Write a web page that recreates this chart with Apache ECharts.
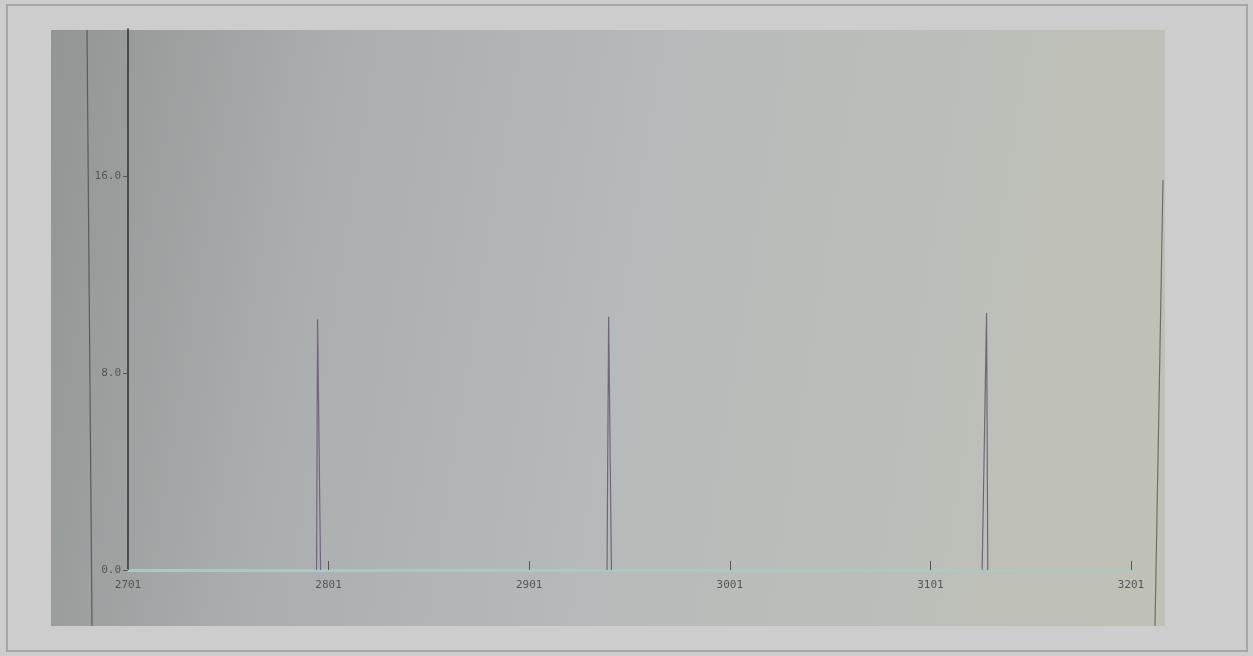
<!DOCTYPE html>
<html>
<head>
<meta charset="utf-8">
<script src="https://cdn.jsdelivr.net/npm/echarts@6/dist/echarts.min.js"></script>
<style>
html,body{margin:0;padding:0;background:#cdcdcd;}
#c{width:1253px;height:656px;}
</style>
</head>
<body>
<div id="c"></div>
<script>
// Tick labels / axis ranges
const xMin = 2701, xMax = 3201, xStep = 100;
const yMin = 0, yMax = 22, yStep = 8;

// Spike 1 (narrow triangle)
const spike1X = [2795.0, 2795.5, 2797.0];
const spike1Y = [0, 10.2, 0];
// Spike 2
const spike2X = [2939.8, 2940.6, 2942.0];
const spike2Y = [0, 10.3, 0];
// Spike 3
const spike3X = [3126.8, 3129.0, 3129.6];
const spike3Y = [0, 10.45, 0];

const zip = (xs, ys) => xs.map((x, i) => [x, ys[i]]);

const chart = echarts.init(document.getElementById('c'), null, {renderer: 'canvas'});

const spikeStyle = {color: '#6f667a', width: 1.2};
function spikeSeries(xs, ys) {
  return {
    type: 'line', data: zip(xs, ys), symbol: 'none', silent: true,
    lineStyle: spikeStyle, z: 3, animation: false
  };
}

chart.setOption({
  backgroundColor: '#cdcdcd',
  animation: false,
  graphic: [
    {type: 'rect', shape: {x: 7, y: 5, width: 1240, height: 646},
     style: {fill: 'none', stroke: '#a6a6a6', lineWidth: 2}, z: -10},
    {type: 'rect', shape: {x: 51, y: 30, width: 1114, height: 596},
     style: {fill: new echarts.graphic.LinearGradient(0, 0, 1, 0.3, [
       {offset: 0, color: '#939595'},
       {offset: 0.25, color: '#abaeae'},
       {offset: 0.55, color: '#b7baba'},
       {offset: 1, color: '#bfc1b7'}
     ])}, z: -9},
    {type: 'line', shape: {x1: 87, y1: 30, x2: 92, y2: 626},
     style: {stroke: '#5a5c5c', lineWidth: 1.2}, z: -8},
    {type: 'line', shape: {x1: 1163, y1: 180, x2: 1155, y2: 626},
     style: {stroke: '#6d6f6a', lineWidth: 1.2}, z: -8}
  ],
  grid: {left: 128, right: 122, top: 29, bottom: 86},
  xAxis: {
    type: 'value', min: xMin, max: xMax, interval: xStep,
    axisLine: {show: true, lineStyle: {color: '#a6cbc4', width: 3}},
    axisTick: {show: true, inside: true, length: 9, lineStyle: {color: '#555', width: 1}},
    axisLabel: {color: '#555', fontFamily: 'DejaVu Sans Mono', fontSize: 11, margin: 10,
      formatter: v => String(v)},
    splitLine: {show: false}
  },
  yAxis: {
    type: 'value', min: yMin, max: yMax, interval: yStep,
    axisLine: {show: true, lineStyle: {color: '#2e3030', width: 1.5}},
    axisTick: {show: true, length: 5, lineStyle: {color: '#555'}},
    axisLabel: {color: '#555', fontFamily: 'DejaVu Sans Mono', fontSize: 11, margin: 7,
      formatter: v => v.toFixed(1),
      showMaxLabel: false},
    splitLine: {show: false}
  },
  series: [
    spikeSeries(spike1X, spike1Y),
    spikeSeries(spike2X, spike2Y),
    spikeSeries(spike3X, spike3Y)
  ]
});
</script>
</body>
</html>
